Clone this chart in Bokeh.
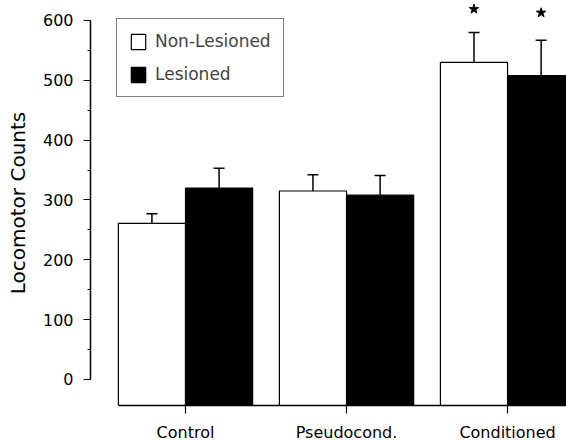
from bokeh.plotting import figure
from bokeh.models import (ColumnDataSource, Range1d, FixedTicker, SingleIntervalTicker,
                          Whisker, TeeHead, Legend, LegendItem)
from bokeh.embed import file_html
from bokeh.resources import INLINE

# ---- data ----
groups = ["Control", "Pseudocond.", "Conditioned"]
non_lesioned = [261, 315, 530]
non_lesioned_err = [16, 27, 50]
lesioned = [320, 308, 508]
lesioned_err = [33, 33, 59]
star_groups = [2, 2]
star_series = ["nl", "l"]
star_values = [619, 613]
y_ticks_interval = 100

FONT = "DejaVu Sans"
Y0, Y1 = -43.5, 633.4
BW = 0.417

p = figure(frame_width=476, frame_height=405, width=566, height=441,
           x_range=Range1d(-0.59, 2.366), y_range=Range1d(Y0, Y1),
           output_backend="svg", toolbar_location=None,
           min_border_left=90, min_border_right=0, min_border_top=0, min_border_bottom=36)
p.outline_line_color = None
p.xgrid.visible = False
p.ygrid.visible = False
p.background_fill_color = "white"
p.border_fill_color = "white"

xs = list(range(len(groups)))
nl_x = [x - BW / 2 for x in xs]
l_x = [x + BW / 2 for x in xs]

src_nl = ColumnDataSource(dict(x=nl_x, top=non_lesioned, up=[m + e for m, e in zip(non_lesioned, non_lesioned_err)]))
src_l = ColumnDataSource(dict(x=l_x, top=lesioned, up=[m + e for m, e in zip(lesioned, lesioned_err)]))

r_nl = p.vbar(x="x", top="top", bottom=Y0, width=BW, source=src_nl,
              fill_color="white", line_color="black", line_width=1.2)
r_l = p.vbar(x="x", top="top", bottom=Y0, width=BW, source=src_l,
             fill_color="black", line_color="black", line_width=1.2)

for src in (src_nl, src_l):
    w = Whisker(base="x", lower="top", upper="up", source=src, dimension="height",
                line_color="black", line_width=1.5, lower_head=None,
                upper_head=TeeHead(size=11, line_color="black", line_width=1.5))
    p.add_layout(w)

star_x = [g - BW / 2 if s == "nl" else g + BW / 2 for g, s in zip(star_groups, star_series)]
p.scatter(x=star_x, y=star_values, marker="star", size=10, fill_color="black", line_color="black")

# axes
xa = p.xaxis[0]
xa.ticker = FixedTicker(ticks=xs)
xa.major_label_overrides = {i: g for i, g in enumerate(groups)}
xa.bounds = (-BW, 3)
xa.major_tick_in = 0
xa.major_tick_out = 8
xa.minor_tick_out = 0
xa.major_label_standoff = 9
xa.major_label_text_font = FONT
xa.major_label_text_font_size = "16px"
xa.major_label_text_color = "black"
xa.axis_line_width = 1.5
xa.major_tick_line_width = 1.2

ya = p.yaxis[0]
ya.ticker = SingleIntervalTicker(interval=y_ticks_interval, num_minor_ticks=2)
ya.bounds = (0, 600)
ya.major_tick_in = 0
ya.major_tick_out = 7
ya.minor_tick_in = 0
ya.minor_tick_out = 3
ya.major_label_standoff = 10
ya.major_label_text_font = FONT
ya.major_label_text_font_size = "16px"
ya.major_label_text_color = "black"
ya.axis_label = "Locomotor Counts"
ya.axis_label_text_font = FONT
ya.axis_label_text_font_size = "20px"
ya.axis_label_text_font_style = "normal"
ya.axis_label_text_color = "black"
ya.axis_label_standoff = 10
ya.axis_line_width = 1.5
ya.major_tick_line_width = 1.2

legend = Legend(items=[LegendItem(label="Non-Lesioned", renderers=[r_nl]),
                       LegendItem(label="Lesioned", renderers=[r_l])],
                location=(26, 308), glyph_width=18, glyph_height=19,
                label_text_font=FONT, label_text_font_size="17px",
                label_standoff=8, spacing=13, padding=12, label_height=19,
                border_line_color="black", border_line_width=1.2,
                background_fill_color="white", background_fill_alpha=1)
p.add_layout(legend)

open("out.html", "w").write(file_html(p, INLINE))
